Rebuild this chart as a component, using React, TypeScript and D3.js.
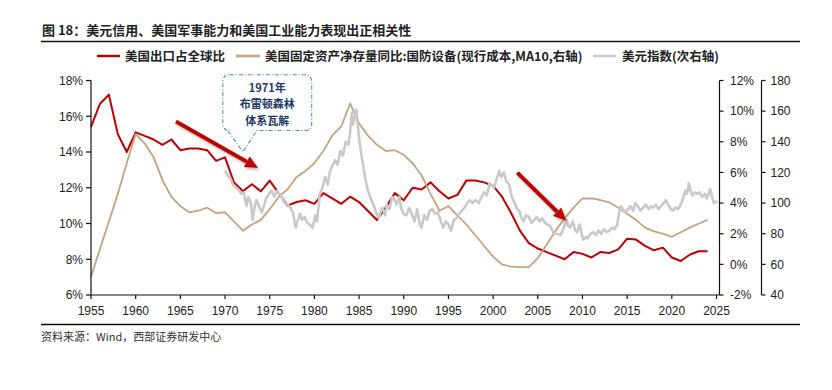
import React from "react";
import * as d3 from "d3";

const TITLE = "图 18：美元信用、美国军事能力和美国工业能力表现出正相关性";
const SOURCE = "资料来源：Wind，西部证券研发中心";
const legendLabels = [
  "美国出口占全球比",
  "美国固定资产净存量同比:国防设备(现行成本,MA10,右轴)",
  "美元指数(次右轴)",
];
const calloutLines = ["1971年", "布雷顿森林", "体系瓦解"];

const xTicks = [1955, 1960, 1965, 1970, 1975, 1980, 1985, 1990, 1995, 2000, 2005, 2010, 2015, 2020, 2025];
const leftTicks = [6, 8, 10, 12, 14, 16, 18];
const pctTicks = [-2, 0, 2, 4, 6, 8, 10, 12];
const dxyTicks = [40, 60, 80, 100, 120, 140, 160, 180];

const FIRST_YEAR = 1955;
// 美国出口占全球比 (%), annual 1955-2024
const exportShare = [
  15.4, 16.7, 17.2, 15.0, 14.0, 15.1, 14.9, 14.7, 14.4, 14.7,
  14.1, 14.2, 14.2, 14.1, 13.5, 13.7, 12.3, 11.8, 12.2, 11.8,
  12.4, 11.7, 11.0, 11.2, 11.3, 11.1, 11.7, 11.4, 11.1, 11.5,
  11.2, 10.7, 10.2, 10.9, 11.7, 11.3, 12.0, 11.9, 12.3, 11.8,
  11.4, 11.6, 12.4, 12.4, 12.3, 12.1, 11.5, 10.6, 9.6, 8.9,
  8.6, 8.4, 8.2, 8.0, 8.4, 8.3, 8.1, 8.4, 8.35, 8.55,
  9.15, 9.1, 8.75, 8.5, 8.65, 8.1, 7.9, 8.25, 8.45, 8.45,
];
// 国防设备净存量同比 (%), annual 1955-2024
const defenseYoY = [
  -0.8, 1.0, 2.8, 4.6, 6.6, 8.5, 7.9, 7.0, 5.5, 4.4,
  3.8, 3.4, 3.5, 3.7, 3.35, 3.4, 2.8, 2.2, 2.6, 2.9,
  3.6, 4.4, 4.9, 5.7, 6.1, 6.6, 7.4, 8.4, 9.0, 10.5,
  9.2, 8.4, 7.8, 7.4, 7.45, 7.15, 6.6, 5.8, 4.6, 3.5,
  3.8, 3.2, 2.6, 1.9, 1.2, 0.5, 0.0, -0.15, -0.18, -0.18,
  0.4, 1.3, 2.2, 3.0, 3.7, 4.3, 4.3, 4.2, 4.05, 3.7,
  3.3, 2.9, 2.4, 2.15, 2.0, 1.8, 2.1, 2.4, 2.65, 2.9,
];
// 美元指数
const dxyDates = [
  1970.0, 1970.3, 1970.6, 1970.9, 1971.2, 1971.5, 1971.8, 1972.1, 1972.4, 1972.6, 1972.9,
  1973.1, 1973.3, 1973.5, 1973.8, 1974.1, 1974.3, 1974.6, 1974.9, 1975.2, 1975.5, 1975.8,
  1976.1, 1976.4, 1976.7, 1977.0, 1977.3, 1977.6, 1977.9, 1978.1, 1978.4, 1978.6, 1978.9,
  1979.2, 1979.5, 1979.8, 1980.1, 1980.3, 1980.6, 1980.9, 1981.2, 1981.5, 1981.7, 1982.0,
  1982.3, 1982.6, 1982.9, 1983.2, 1983.5, 1983.8, 1984.0, 1984.2, 1984.3, 1984.5, 1984.7,
  1984.9, 1985.1, 1985.3, 1985.5, 1985.7, 1986.0, 1986.3, 1986.6, 1986.9, 1987.2, 1987.4,
  1987.6, 1987.9, 1988.1, 1988.4, 1988.7, 1988.9, 1989.2, 1989.5, 1989.7, 1990.0, 1990.3,
  1990.6, 1990.9, 1991.2, 1991.5, 1991.8, 1992.0, 1992.3, 1992.6, 1992.9, 1993.2, 1993.5,
  1993.8, 1994.1, 1994.4, 1994.7, 1995.0, 1995.3, 1995.6, 1995.9, 1996.2, 1996.5, 1996.8,
  1997.1, 1997.4, 1997.7, 1998.0, 1998.4, 1998.7, 1999.0, 1999.3, 1999.6, 1999.8, 2000.1,
  2000.4, 2000.7, 2000.9, 2001.2, 2001.5, 2001.8, 2002.1, 2002.4, 2002.7, 2002.9, 2003.2,
  2003.4, 2003.7, 2004.0, 2004.3, 2004.6, 2004.9, 2005.2, 2005.5, 2005.8, 2006.1, 2006.4,
  2006.7, 2006.9, 2007.2, 2007.5, 2007.8, 2008.0, 2008.2, 2008.4, 2008.6, 2008.9, 2009.2,
  2009.4, 2009.7, 2009.9, 2010.1, 2010.4, 2010.6, 2010.9, 2011.2, 2011.5, 2011.8, 2012.1,
  2012.4, 2012.7, 2013.0, 2013.3, 2013.6, 2013.9, 2014.1, 2014.3, 2014.5, 2014.8, 2015.1,
  2015.4, 2015.7, 2015.9, 2016.2, 2016.5, 2016.8, 2017.1, 2017.4, 2017.7, 2017.9, 2018.2,
  2018.5, 2018.8, 2019.1, 2019.3, 2019.6, 2019.9, 2020.1, 2020.4, 2020.7, 2020.9, 2021.2,
  2021.5, 2021.7, 2021.9, 2022.1, 2022.3, 2022.6, 2022.9, 2023.1, 2023.4, 2023.7, 2023.9,
  2024.1, 2024.3, 2024.5, 2024.7, 2024.9, 2025.1,
];
const dxyValues = [
  121, 118, 116, 112, 110, 109, 106, 107, 98, 104, 100,
  89, 97, 102, 98, 94, 97, 103, 106, 108, 104, 108,
  106, 103, 100, 99, 97, 94, 84, 88, 93, 89, 91,
  87, 86, 84, 92, 88, 106, 110, 117, 112, 120, 124,
  128, 125, 134, 131, 140, 138, 146, 159, 151, 156, 161,
  148, 138, 130, 123, 116, 108, 103, 99, 94, 90, 94,
  97, 92, 99, 96, 104, 103, 99, 104, 97, 93, 92,
  97, 93, 88, 96, 86, 84, 92, 89, 95, 96, 93,
  94, 89, 84, 88, 86, 82, 89, 90, 93, 95, 97,
  100, 102, 100, 102, 100, 104, 107, 105, 113, 112, 110,
  116, 121, 117, 120, 114, 112, 104, 100, 96, 95, 90,
  88, 92, 91, 87, 89, 91, 88, 90, 87, 86, 85,
  81, 80, 80, 79, 82, 86, 89, 85, 84, 88, 82,
  81, 86, 80, 76, 78, 77, 80, 81, 79, 82, 80,
  83, 81, 82, 84, 83, 86, 94, 98, 96, 94, 96,
  98, 95, 100, 98, 95, 97, 99, 96, 98, 97, 99,
  96, 98, 100, 102, 99, 96, 95, 97, 96, 98, 102,
  108, 106, 113, 108, 105, 107, 106, 107, 104, 106, 103,
  106, 109, 104, 100, 101, 100,
];

// annotation anchors in data units (year, left-axis %)
const arrowStarts = [[1964.5, 15.7], [2002.7, 12.85]];
const arrowEnds = [[1973.7, 13.1], [2008.2, 10.15]];
const calloutBox = { x0: 1969.75, x1: 1979.7, y0: 18.32, y1: 15.2 };
const calloutTip = [1972.0, 14.0];

const W = 832;
const H = 390;
const PLOT = { left: 91, right: 716.5, top: 80.5, bottom: 295 };
const AX1 = 719.5;
const AX2 = 761.5;

const RED = "#C00000";
const TAN = "#C8A27C";
const GREY = "#C9C9C9";
const CJK = "'Noto Sans CJK SC', 'Noto Sans', sans-serif";
const LAT = "'Liberation Sans', Arial, sans-serif";

export default function App() {
  const x = d3.scaleLinear().domain([1955, 2025]).range([PLOT.left, PLOT.right]);
  const yL = d3.scaleLinear().domain([6, 18]).range([PLOT.bottom, PLOT.top]);
  const yP = d3.scaleLinear().domain([-2, 12]).range([PLOT.bottom, PLOT.top]);
  const yD = d3.scaleLinear().domain([40, 180]).range([PLOT.bottom, PLOT.top]);

  const redLine = d3
    .line<number>()
    .x((_, i) => x(FIRST_YEAR + i))
    .y((d) => yL(d))(exportShare) as string;
  const tanLine = d3
    .line<number>()
    .x((_, i) => x(FIRST_YEAR + i))
    .y((d) => yP(d))(defenseYoY) as string;
  const greyLine = d3
    .line<number>()
    .x((_, i) => x(dxyDates[i]))
    .y((d) => yD(d))(dxyValues) as string;

  const arrows = arrowStarts.map((s, i) => {
    const e = arrowEnds[i];
    const x1 = x(s[0]), y1 = yL(s[1]), x2 = x(e[0]), y2 = yL(e[1]);
    const ang = Math.atan2(y2 - y1, x2 - x1);
    const hl = 13, hw = 6;
    const bx = x2 - hl * Math.cos(ang), by = y2 - hl * Math.sin(ang);
    const px = -Math.sin(ang), py = Math.cos(ang);
    const head = `${x2},${y2} ${bx + px * hw},${by + py * hw} ${bx - px * hw},${by - py * hw}`;
    return { x1, y1, bx, by, head };
  });

  const bx0 = x(calloutBox.x0), bx1 = x(calloutBox.x1);
  const by0 = yL(calloutBox.y0), by1 = yL(calloutBox.y1);
  const tx = x(calloutTip[0]), ty = yL(calloutTip[1]);
  const r = 7;
  const pb0 = bx0 + 5, pb1 = bx0 + 34;
  const calloutPath = [
    `M${bx0 + r},${by0}`,
    `L${bx1 - r},${by0}`,
    `Q${bx1},${by0} ${bx1},${by0 + r}`,
    `L${bx1},${by1 - r}`,
    `Q${bx1},${by1} ${bx1 - r},${by1}`,
    `L${pb1},${by1}`,
    `L${tx},${ty}`,
    `L${pb0},${by1}`,
    `L${bx0 + r},${by1}`,
    `Q${bx0},${by1} ${bx0},${by1 - r}`,
    `L${bx0},${by0 + r}`,
    `Q${bx0},${by0} ${bx0 + r},${by0}`,
    "Z",
  ].join(" ");
  const cx = (bx0 + bx1) / 2;

  const legendItems = [
    { color: RED, x0: 97, x1: 120, tx: 125, label: legendLabels[0] },
    { color: TAN, x0: 236, x1: 260, tx: 265, label: legendLabels[1] },
    { color: GREY, x0: 593, x1: 616, tx: 622, label: legendLabels[2] },
  ];

  return (
    <svg
      width={W}
      height={H}
      viewBox={`0 0 ${W} ${H}`}
      style={{ position: "absolute", left: 0, top: 0, background: "#fff" }}
    >
      <defs>
        <filter id="shadow" x="-20%" y="-20%" width="140%" height="160%">
          <feDropShadow dx="1.5" dy="2" stdDeviation="1.4" floodColor="#7a7a7a" floodOpacity="0.55" />
        </filter>
      </defs>
      <rect width={W} height={H} fill="#fff" />

      {/* title */}
      <text x={42} y={35} fontFamily={CJK} fontSize={13} fontWeight={700} fill="#222">
        {TITLE}
      </text>
      <line x1={41} x2={800} y1={41.5} y2={41.5} stroke="#111" strokeWidth={1.3} />

      {/* legend */}
      {legendItems.map((it, i) => (
        <g key={i}>
          <line x1={it.x0} x2={it.x1} y1={56} y2={56} stroke={it.color} strokeWidth={2.5} />
          <text x={it.tx} y={60.5} fontFamily={CJK} fontSize={12.5} fontWeight={700} fill="#222">
            {it.label}
          </text>
        </g>
      ))}

      {/* callout */}
      <path d={calloutPath} fill="#fdfeff" stroke="#4d8fc4" strokeWidth={1.1} strokeDasharray="4 2 1 2" />
      {calloutLines.map((t, i) => (
        <text
          key={i}
          x={cx}
          y={by0 + 17 + i * 16.5}
          textAnchor="middle"
          fontFamily={CJK}
          fontSize={11}
          fontWeight={700}
          fill="#1F3864"
        >
          {t}
        </text>
      ))}

      {/* series */}
      <path d={redLine} fill="none" stroke={RED} strokeWidth={2} strokeLinejoin="round" />
      <path d={tanLine} fill="none" stroke={TAN} strokeWidth={1.8} strokeLinejoin="round" />
      <path d={greyLine} fill="none" stroke={GREY} strokeWidth={2.6} strokeLinejoin="round" />

      {/* arrows */}
      {arrows.map((a, i) => (
        <g key={i} filter="url(#shadow)">
          <line x1={a.x1} y1={a.y1} x2={a.bx} y2={a.by} stroke={RED} strokeWidth={4} />
          <polygon points={a.head} fill={RED} />
        </g>
      ))}

      {/* left axis */}
      <line x1={PLOT.left} x2={PLOT.left} y1={PLOT.top} y2={PLOT.bottom} stroke="#111" strokeWidth={1.2} />
      {leftTicks.map((t) => (
        <g key={t}>
          <line x1={PLOT.left - 5} x2={PLOT.left} y1={yL(t)} y2={yL(t)} stroke="#111" strokeWidth={1.2} />
          <text x={83} y={yL(t) + 4.3} textAnchor="end" fontFamily={LAT} fontSize={12} fill="#222">
            {t}%
          </text>
        </g>
      ))}

      {/* x axis */}
      <line x1={PLOT.left} x2={AX1} y1={PLOT.bottom} y2={PLOT.bottom} stroke="#111" strokeWidth={1.2} />
      {xTicks.map((t) => (
        <g key={t}>
          <line x1={x(t)} x2={x(t)} y1={PLOT.bottom} y2={PLOT.bottom + 4} stroke="#111" strokeWidth={1.2} />
          <text x={x(t)} y={314.5} textAnchor="middle" fontFamily={LAT} fontSize={12} fill="#222">
            {t}
          </text>
        </g>
      ))}

      {/* right axis 1 */}
      <line x1={AX1} x2={AX1} y1={PLOT.top} y2={PLOT.bottom} stroke="#111" strokeWidth={1.2} />
      {pctTicks.map((t) => (
        <g key={t}>
          <line x1={AX1} x2={AX1 + 4} y1={yP(t)} y2={yP(t)} stroke="#111" strokeWidth={1.2} />
          <text x={730} y={yP(t) + 4.3} fontFamily={LAT} fontSize={12} fill="#222">
            {t}%
          </text>
        </g>
      ))}

      {/* right axis 2 */}
      <line x1={AX2} x2={AX2} y1={PLOT.top} y2={PLOT.bottom} stroke="#111" strokeWidth={1.2} />
      {dxyTicks.map((t) => (
        <g key={t}>
          <line x1={AX2} x2={AX2 + 4} y1={yD(t)} y2={yD(t)} stroke="#111" strokeWidth={1.2} />
          <text x={770.5} y={yD(t) + 4.3} fontFamily={LAT} fontSize={12} fill="#222">
            {t}
          </text>
        </g>
      ))}

      {/* footer */}
      <line x1={41} x2={800} y1={324.5} y2={324.5} stroke="#111" strokeWidth={1.3} />
      <text x={41} y={341} fontFamily={CJK} fontSize={11} fill="#333">
        {SOURCE}
      </text>
    </svg>
  );
}
